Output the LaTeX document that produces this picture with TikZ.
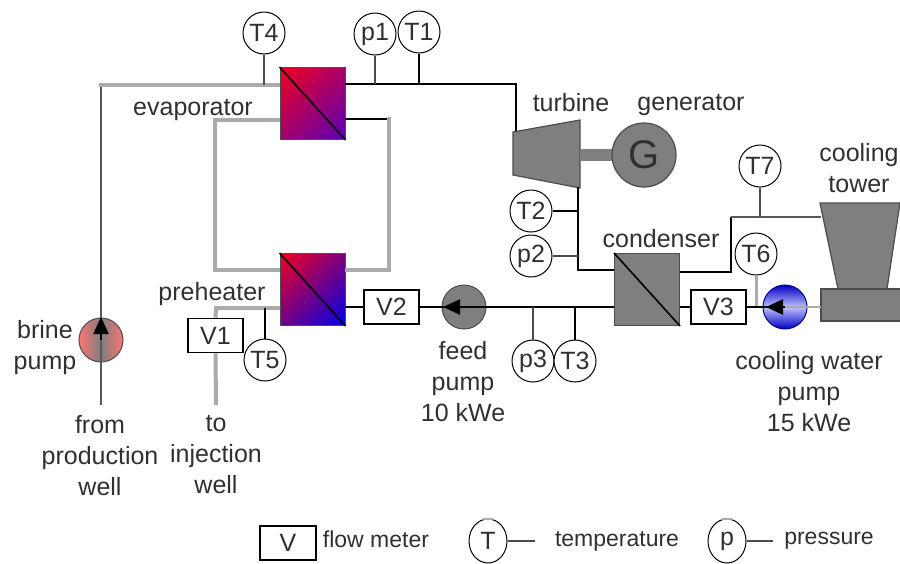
\documentclass[tikz,border=0pt]{standalone}
\usepackage{fontspec}
\setmainfont{Liberation Sans}
\usepackage{xcolor}
\usetikzlibrary{arrows.meta,positioning,shapes.geometric}
\definecolor{machine}{HTML}{7F7F7F}
\definecolor{inkgray}{HTML}{303030}
\definecolor{pipegray}{HTML}{ABABAB}
\definecolor{evapend}{HTML}{5A00B4}
\definecolor{hotred}{HTML}{F00020}
\definecolor{coldblue}{HTML}{0000E6}
\pgfdeclarehorizontalshading{evapshade}{100bp}{color(0bp)=(hotred); color(15bp)=(hotred); color(85bp)=(evapend); color(100bp)=(evapend)}
\pgfdeclarehorizontalshading{preshade}{100bp}{color(0bp)=(hotred); color(15bp)=(hotred); color(85bp)=(coldblue); color(100bp)=(coldblue)}
\begin{document}
\begin{tikzpicture}[
    x=1pt, y=-1pt,
    sensor/.style={draw=black, fill=white, circle, minimum size=42pt, inner sep=0pt, line width=1pt, text=inkgray, font=\fontsize{25}{31}\selectfont},
    meter/.style={draw=black, fill=white, minimum width=55pt, minimum height=34pt, inner sep=0pt, line width=1.6pt, text=inkgray, font=\fontsize{25}{31}\selectfont},
    exchanger/.style={draw=black!70, minimum width=65pt, minimum height=72pt, inner sep=0pt, line width=1pt},
    pump/.style={draw=black!70, circle, minimum size=44pt, inner sep=0pt, line width=1pt},
    machineshape/.style={draw=black!70, fill=machine, line width=1.2pt},
    caption/.style={text=inkgray, align=center, inner sep=0pt, font=\fontsize{25}{31}\selectfont},
    legendtext/.style={text=inkgray, inner sep=0pt, font=\fontsize{23}{28}\selectfont},
    hotpipe/.style={draw=pipegray, line width=4pt},
    darkpipe/.style={draw=black, line width=2.4pt},
    thinpipe/.style={draw=black!65, line width=2pt},
    stem/.style={draw=black!70, line width=2pt},
    flow/.style={-{Stealth[length=17pt,width=15pt,inset=0pt]}, draw=black, line width=2.4pt}
]
\useasboundingbox (0,0) rectangle (900,563);

% pumps
\node[pump, left color=red!55!white, right color=red!55!white, middle color=machine] (brinepump) at (101,340) {};
\node[pump, fill=machine] (feedpump) at (464,307) {};
\node[pump, draw=blue!60!black, top color=blue!75!black, bottom color=blue!75!black, middle color=blue!25!white] (coolpump) at (785,307) {};

% machines
\draw[machineshape] (513,132) -- (580,120) -- (580,188) -- (513,175) -- cycle;
\node[draw=machine, fill=machine, minimum width=32pt, minimum height=11pt, inner sep=0pt] (shaft) at (596,155) {};
\node[machineshape, circle, minimum size=64pt, inner sep=0pt, text=inkgray, font=\fontsize{40}{40}\selectfont] (generator) at (644,155) {G};
\draw[machineshape] (820,203) -- (900,203) -- (887,289) -- (838,289) -- cycle;
\node[machineshape, minimum width=80pt, minimum height=32pt, inner sep=0pt] (towerbase) at (861,305) {};

% heat exchangers
\node[exchanger, shading=evapshade, shading angle=-45] (evaporator) at (312.5,103.5) {};
\node[exchanger, shading=preshade, shading angle=-45] (preheater) at (312.5,289.5) {};
\node[exchanger, fill=machine] (condenser) at (647,289.5) {};
\draw[darkpipe, line width=1.6pt] (evaporator.north west) -- (evaporator.south east);
\draw[darkpipe, line width=1.6pt] (preheater.north west) -- (preheater.south east);
\draw[darkpipe, line width=1.6pt] (condenser.north west) -- (condenser.south east);

% flow meters
\node[meter] (V1) at (215.5,335.5) {V1};
\node[meter] (V2) at (391.5,307) {V2};
\node[meter] (V3) at (718.5,307) {V3};

% sensors
\node[sensor] (T4) at (264,33) {T4};
\node[sensor] (p1) at (375,34) {p1};
\node[sensor] (T1) at (419,32) {T1};
\node[sensor] (T2) at (531,211) {T2};
\node[sensor] (p2) at (531,256) {p2};
\node[sensor] (p3) at (533,361) {p3};
\node[sensor] (T3) at (575,361) {T3};
\node[sensor] (T5) at (265,360) {T5};
\node[sensor] (T6) at (756,254) {T6};
\node[sensor] (T7) at (760,166) {T7};

% brine side
\coordinate (brinein) at (101,405);
\coordinate (brineout) at (216,405);
\coordinate (evaptop) at (280,85);
\coordinate (evaplow) at (280,120);
\coordinate (preup) at (280,270);
\coordinate (prelow) at (280,308);
\draw[thinpipe] (brinein) -- (101,85);
\draw[hotpipe] (99,85) -- (evaptop);
\draw[hotpipe] (evaplow) -- (215,120) -- (215,270) -- (preup);
\draw[hotpipe] (prelow) -- (216,308) -- (V1.north);
\draw[hotpipe] (V1.south) -- (brineout);
\draw[flow] (brinepump.center) -- (101,317);

% working fluid
\coordinate (evapout) at (345,84);
\coordinate (evapback) at (345,119);
\coordinate (turbinein) at (516,131);
\coordinate (turbineout) at (578,187);
\coordinate (condin) at (614,270);
\coordinate (condout) at (614,307);
\coordinate (preback) at (345,270);
\coordinate (preout) at (345,307);
\draw[darkpipe] (evapout) -- (516,84) -- (turbinein);
\draw[darkpipe] (evapback) -- (389,119);
\draw[hotpipe] (389,117) -- (389,270) -- (preback);
\draw[darkpipe] (turbineout) -- (578,270) -- (condin);
\draw[darkpipe] (condout) -- (V2.east);
\draw[darkpipe] (V2.west) -- (preout);
\draw[flow] (feedpump.center) -- (443,307);

% cooling water
\coordinate (coolout) at (680,272);
\coordinate (condback) at (680,307);
\coordinate (towerin) at (821,217);
\coordinate (towerback) at (821,307);
\draw[darkpipe] (coolout) -- (731,272) -- (731,217);
\draw[thinpipe] (731,217) -- (towerin);
\draw[thinpipe, draw=pipegray] (towerback) -- (coolpump.center);
\draw[darkpipe] (coolpump.center) -- (V3.east);
\draw[darkpipe] (V3.west) -- (condback);
\draw[flow] (coolpump.center) -- (766,307);

% sensor stems
\draw[stem] (T4) -- (T4 |- evaptop);
\draw[stem] (p1) -- (p1 |- evapout);
\draw[darkpipe] (T1) -- (T1 |- evapout);
\draw[darkpipe] (T2) -- (578,211);
\draw[stem] (p2) -- (578,256);
\draw[stem] (p3) -- (533,307);
\draw[darkpipe] (T3) -- (575,307);
\draw[darkpipe] (T5) -- (T5 |- prelow);
\draw[stem, draw=pipegray, line width=3pt] (T6) -- (756,306);
\draw[stem] (T7) -- (T7 |- towerin);

% labels
\node[caption] (evaplabel) at (193,110) {evaporator};
\node[caption] (turbinelabel) at (571,103) {turbine};
\node[caption] (generatorlabel) at (691,105) {generator};
\node[caption] (towerlabel) at (859,168) {cooling\\tower};
\node[caption] (condlabel) at (661,239) {condenser};
\node[caption] (prelabel) at (212,294) {preheater};
\node[caption] (brinelabel) at (45,348) {brine\\pump};
\node[caption] (fromlabel) at (100,456) {from\\production\\well};
\node[caption] (tolabel) at (216,455) {to\\injection\\well};
\node[caption] (feedlabel) at (463,382) {feed\\pump\\10 kWe};
\node[caption] (coollabel) at (809,392) {cooling water\\pump\\15 kWe};

% legend
\node[meter, minimum width=56pt, minimum height=34pt] (legendV) at (288,543) {V};
\node[legendtext] (legendflow) at (376,539) {flow meter};
\node[sensor, ellipse, minimum width=38pt, minimum height=44pt] (legendT) at (488,541) {T};
\coordinate (legendTend) at (535,541);
\draw[stem] (legendT) -- (legendTend);
\draw[stem, draw=pipegray] (legendT.north) ++(-5,0) -- ++(10,0);
\node[legendtext] (legendtemp) at (617,541) {temperature};
\node[sensor, ellipse, minimum width=38pt, minimum height=44pt] (legendp) at (727,541) {p};
\coordinate (legendpend) at (773,541);
\draw[stem] (legendp) -- (legendpend);
\draw[stem, draw=pipegray] (legendp.north) ++(-5,0) -- ++(10,0);
\node[legendtext] (legendpress) at (829,541) {pressure};
\end{tikzpicture}
\end{document}
